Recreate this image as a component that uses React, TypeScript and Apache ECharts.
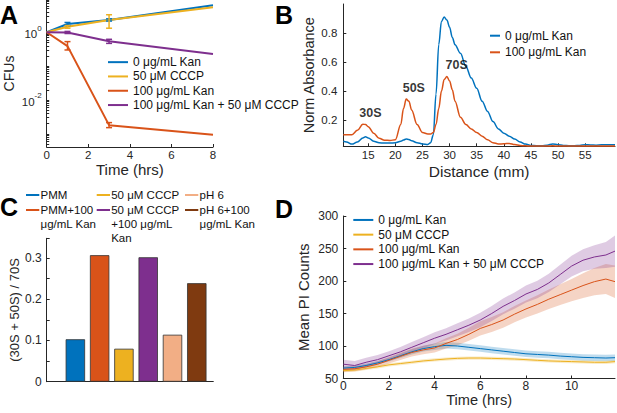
import React, { useEffect, useRef } from 'react';
import * as echarts from 'echarts';

const FONT = '"Liberation Sans", Arial, Helvetica, sans-serif';
const INK = '#262626';
const BLUE = '#0072BD';
const ORANGE = '#D95319';
const YELLOW = '#EDB120';
const PURPLE = '#7E2F8E';

// ---------- shared series names ----------
const seriesNames = ['0 μg/mL Kan', '50 μM CCCP', '100 μg/mL Kan', '100 μg/mL Kan + 50 μM CCCP'];
const seriesColors = [BLUE, YELLOW, ORANGE, PURPLE];

// ---------- Panel A: CFUs vs time ----------
const cfuTimes = [0, 1, 3, 8];
const cfuKan0 = [1, 1.76, 2.3, 6.3];
const cfuCccp = [1, 1.46, 2.3, 5.5];
const cfuKan100 = [1, 0.39, 0.0018, 0.00093];
const cfuKanCccp = [1, 0.98, 0.54, 0.23];
const errTimes = [1, 3];
const errKan0Low = [1.58, 2.15];
const errKan0High = [1.95, 2.5];
const errCccpLow = [1.32, 1.32];
const errCccpHigh = [1.58, 3.3];
const errKan100Low = [0.3, 0.00152];
const errKan100High = [0.53, 0.00214];
const errKanCccpLow = [0.92, 0.47];
const errKanCccpHigh = [1.06, 0.62];
const cfuLabelDecades = [0.01, 1];

// ---------- Panel B: absorbance profile ----------
const distanceMm = [10.4, 11, 12, 13, 14, 14.5, 15, 16, 17, 18, 19, 20, 21, 21.5, 22, 22.5, 23, 24, 25, 26, 26.5, 27, 27.5, 28, 28.5, 29, 29.5, 30, 30.5, 31, 32, 33, 34, 35, 36, 37, 38, 39, 40, 41, 42, 43, 44, 45, 46, 47, 48, 49, 50, 51, 52, 53, 54, 55, 56, 57, 58, 59, 60.5];
const absKan0 = [0.055, 0.05, 0.035, 0.05, 0.078, 0.085, 0.078, 0.055, 0.045, 0.042, 0.042, 0.045, 0.055, 0.064, 0.07, 0.067, 0.058, 0.045, 0.036, 0.033, 0.045, 0.1, 0.38, 0.72, 0.88, 0.91, 0.89, 0.84, 0.77, 0.72, 0.66, 0.57, 0.49, 0.42, 0.33, 0.26, 0.19, 0.14, 0.11, 0.09, 0.07, 0.05, 0.035, 0.026, 0.024, 0.024, 0.028, 0.036, 0.031, 0.026, 0.024, 0.024, 0.026, 0.031, 0.029, 0.028, 0.03, 0.03, 0.031];
const absKan100 = [0.1, 0.1, 0.1, 0.13, 0.172, 0.17, 0.155, 0.11, 0.075, 0.062, 0.06, 0.065, 0.17, 0.28, 0.345, 0.33, 0.27, 0.17, 0.115, 0.105, 0.105, 0.115, 0.17, 0.28, 0.4, 0.48, 0.5, 0.47, 0.41, 0.33, 0.22, 0.17, 0.14, 0.115, 0.09, 0.065, 0.045, 0.036, 0.037, 0.04, 0.032, 0.026, 0.023, 0.022, 0.022, 0.022, 0.022, 0.023, 0.022, 0.022, 0.022, 0.022, 0.022, 0.022, 0.022, 0.022, 0.022, 0.022, 0.022];
const peakLabels = ['30S', '50S', '70S'];
const peakLabelX = [15.4, 23.4, 31.3];
const peakLabelY = [0.25, 0.42, 0.58];
const distanceTicks = [15, 20, 25, 30, 35, 40, 45, 50, 55];
const absorbanceTicks = [0.2, 0.4, 0.6, 0.8];

// ---------- Panel C: subunit ratio bars ----------
const conditions = ['PMM', 'PMM+100 μg/mL Kan', '50 μM CCCP', '50 μM CCCP +100 μg/mL Kan', 'pH 6', 'pH 6+100 μg/mL Kan'];
const conditionLegend = ['PMM', 'PMM+100\nμg/mL Kan', '50 μM CCCP', '50 μM CCCP\n+100 μg/mL\nKan', 'pH 6', 'pH 6+100\nμg/mL Kan'];
const subunitRatio = [0.103, 0.307, 0.08, 0.302, 0.114, 0.239];
const barColors = ['#0072BD', '#D95319', '#EDB120', '#7E2F8E', '#F2AE85', '#7F3A10'];
const barPositions = [1, 2, 3, 4, 5, 6];

// ---------- Panel D: PI counts ----------
const piTimes = [0, 0.5, 1, 1.5, 2, 2.5, 3, 3.5, 4, 4.5, 5, 5.5, 6, 6.5, 7, 7.5, 8, 8.5, 9, 9.5, 10, 10.5, 11, 11.5, 11.9];
const piKan0 = [66, 67, 70, 74, 79, 85, 91, 96, 99, 101, 100, 98, 96, 94, 92, 90, 88, 87, 86, 84.5, 83.5, 82.5, 82, 81.5, 82];
const piKan0Sem = [3, 3, 3, 3, 3, 3.5, 4, 4.5, 5, 5, 5, 5, 5, 5, 5, 5, 5, 5, 5, 5, 5, 5, 5, 5, 5];
const piCccp = [62, 63, 65.5, 68, 71, 73, 75, 77, 78.5, 80, 81, 81.5, 81.5, 81, 80.5, 80, 79, 78, 77, 76.5, 76, 75.5, 75, 75, 76];
const piCccpSem = [2.5, 2.5, 2.5, 2.5, 2.5, 2.5, 2.5, 2.5, 2.5, 2.5, 2.5, 2.5, 2.5, 2.5, 2.5, 2.5, 2.5, 2.5, 2.5, 2.5, 2.5, 2.5, 2.5, 2.5, 2.5];
const piKan100 = [64, 65, 68, 72, 78, 84, 90, 94, 97, 104, 110, 118, 127, 133, 140, 149, 157, 164, 172, 179, 186, 193, 199, 203, 199];
const piKan100Sem = [4, 4, 4, 4.5, 5, 5.5, 6, 6.5, 7, 8, 9, 10, 11, 11.5, 12, 12.5, 13, 14, 15, 16, 17, 19, 21, 23, 25];
const piKanCccp = [72, 70, 75, 79, 85, 91, 98, 105, 112, 118, 125, 132, 140, 150, 161, 170, 180, 187, 197, 210, 223, 232, 237, 240, 246];
const piKanCccpSem = [7, 7, 7, 7, 7, 7.5, 8, 8.5, 9, 9.5, 10, 10.5, 11, 11.5, 12, 12.5, 13, 13.5, 14, 15, 16, 17, 18, 20, 24];

const zip = (xs: number[], ys: number[]) => xs.map((x, i) => [x, ys[i]]);

const axisLine = { show: true, onZero: false, lineStyle: { color: INK, width: 1 } };
const tickIn = { show: true, inside: true, length: 3, lineStyle: { color: INK, width: 1 } };
const lbl = (size: number, extra: any = {}) => ({ color: INK, fontSize: size, fontFamily: FONT, ...extra });
const nameStyle = (size: number) => ({ color: INK, fontSize: size, fontFamily: FONT, verticalAlign: 'middle', align: 'center' });

function errorSeries(name: string, lows: number[], highs: number[], color: string) {
  return {
    type: 'custom', name, xAxisIndex: 0, yAxisIndex: 0, silent: true, z: 3,
    data: errTimes.map((t, i) => [t, lows[i], highs[i]]),
    encode: { x: 0, y: [1, 2] },
    renderItem: (params: any, api: any) => {
      const x = api.value(0);
      const p1 = api.coord([x, api.value(1)]);
      const p2 = api.coord([x, api.value(2)]);
      const w = 3;
      const st = { stroke: color, lineWidth: 1.5 };
      return {
        type: 'group', children: [
          { type: 'line', shape: { x1: p1[0], y1: p1[1], x2: p2[0], y2: p2[1] }, style: st },
          { type: 'line', shape: { x1: p1[0] - w, y1: p1[1], x2: p1[0] + w, y2: p1[1] }, style: st },
          { type: 'line', shape: { x1: p2[0] - w, y1: p2[1], x2: p2[0] + w, y2: p2[1] }, style: st },
        ],
      };
    },
  };
}

function bandSeries(name: string, mean: number[], sem: number[], color: string) {
  return {
    type: 'custom', name, xAxisIndex: 3, yAxisIndex: 3, silent: true, z: 1,
    data: piTimes.map((t, i) => [t, mean[i] - sem[i], mean[i] + sem[i]]),
    encode: { x: 0, y: [1, 2] },
    renderItem: (params: any, api: any) => {
      if (params.dataIndex !== 0) return null;
      const upper = piTimes.map((t, i) => api.coord([t, mean[i] + sem[i]]));
      const lower = piTimes.map((t, i) => api.coord([t, mean[i] - sem[i]])).reverse();
      return { type: 'polygon', shape: { points: upper.concat(lower) }, style: { fill: color, opacity: 0.25 } };
    },
  };
}

function lineSeries(name: string, xi: number, xs: number[], ys: number[], color: string, width: number, extra: any = {}) {
  return {
    type: 'line', name, xAxisIndex: xi, yAxisIndex: xi, data: zip(xs, ys), showSymbol: false, symbol: 'none',
    lineStyle: { color, width }, itemStyle: { color }, z: 2, ...extra,
  };
}

// minor log ticks for panel A
const logTicks: number[] = [];
for (let e = -4; e <= 0; e++) for (let m = 1; m <= 9; m++) logTicks.push(m * Math.pow(10, e));

const option: any = {
  animation: false,
  textStyle: { fontFamily: FONT },
  grid: [
    { left: 46.7, top: 0, width: 166.3, height: 147, outerBoundsMode: 'none', containLabel: false },
    { left: 343.3, top: 4, width: 271.7, height: 142.3, outerBoundsMode: 'none', containLabel: false },
    { left: 46.7, top: 238.3, width: 166.6, height: 143.4, outerBoundsMode: 'none', containLabel: false },
    { left: 343.3, top: 216, width: 271.7, height: 162.5, outerBoundsMode: 'none', containLabel: false },
  ],
  xAxis: [
    {
      type: 'value', gridIndex: 0, min: 0, max: 8, interval: 2, axisLine, axisTick: tickIn,
      axisLabel: lbl(11.5, { margin: 2 }), splitLine: { show: false },
      name: 'Time (hrs)', nameLocation: 'middle', nameGap: 21, nameTextStyle: nameStyle(15),
    },
    {
      type: 'value', gridIndex: 1, min: 10.4, max: 60.5, axisLine,
      axisTick: { ...tickIn, customValues: distanceTicks },
      axisLabel: lbl(11.5, { margin: 3, customValues: distanceTicks }), splitLine: { show: false },
      name: 'Distance (mm)', nameLocation: 'middle', nameGap: 25, nameTextStyle: nameStyle(15.5),
    },
    {
      type: 'value', gridIndex: 2, min: -0.18, max: 6.68, axisLine,
      axisTick: { ...tickIn, customValues: barPositions },
      axisLabel: { show: false }, splitLine: { show: false },
    },
    {
      type: 'value', gridIndex: 3, min: 0, max: 11.9, interval: 2, axisLine, axisTick: tickIn,
      axisLabel: lbl(12, { margin: 1, showMaxLabel: false }), splitLine: { show: false },
      name: 'Time (hrs)', nameLocation: 'middle', nameGap: 16.5, nameTextStyle: nameStyle(14.6),
    },
  ],
  yAxis: [
    {
      type: 'log', logBase: 10, gridIndex: 0, min: 4.07e-4, max: 9.0, axisLine,
      axisTick: { ...tickIn, length: 2.5, customValues: logTicks },
      axisLabel: {
        ...lbl(11.5, { margin: 5 }), customValues: cfuLabelDecades,
        formatter: (v: number) => `{b|10}{s|${Math.round(Math.log10(v))}}`,
        rich: {
          b: { fontSize: 11.5, color: INK, fontFamily: FONT, lineHeight: 16, verticalAlign: 'bottom' },
          s: { fontSize: 8, color: INK, fontFamily: FONT, lineHeight: 8, verticalAlign: 'top' },
        },
      },
      splitLine: { show: false }, minorSplitLine: { show: false },
      name: 'CFUs', nameLocation: 'middle', nameGap: 38, nameTextStyle: nameStyle(14),
    },
    {
      type: 'value', gridIndex: 1, min: 0.02, max: 1.0, axisLine,
      axisTick: { ...tickIn, customValues: absorbanceTicks },
      axisLabel: lbl(11.5, { margin: 6, customValues: absorbanceTicks }), splitLine: { show: false },
      name: 'Norm Absorbance', nameLocation: 'middle', nameGap: 34, nameTextStyle: nameStyle(14.5),
    },
    {
      type: 'value', gridIndex: 2, min: 0, max: 0.348, interval: 0.1, axisLine, axisTick: tickIn,
      minorTick: { show: true, splitNumber: 2, length: 3, lineStyle: { color: INK } },
      axisLabel: lbl(12, { margin: 5, showMaxLabel: false }), splitLine: { show: false },
      name: '(30S + 50S) / 70S', nameLocation: 'middle', nameGap: 32, nameTextStyle: nameStyle(13),
    },
    {
      type: 'value', gridIndex: 3, min: 50, max: 300, interval: 50, axisLine, axisTick: tickIn,
      axisLabel: lbl(12, { margin: 5 }), splitLine: { show: false },
      name: 'Mean PI Counts', nameLocation: 'middle', nameGap: 40, nameTextStyle: nameStyle(15),
    },
  ],
  legend: [
    {
      data: seriesNames, orient: 'vertical', left: 108, top: 55, padding: 0, itemGap: 0,
      itemWidth: 20, itemHeight: 2, icon: 'rect', selectedMode: false,
      textStyle: { color: '#111', fontSize: 12, fontFamily: FONT, lineHeight: 14.3 },
    },
    {
      data: [seriesNames[0], seriesNames[2]], orient: 'vertical', left: 490, top: 27.4, padding: 0, itemGap: 0,
      itemWidth: 10, itemHeight: 2, icon: 'rect', selectedMode: false,
      textStyle: { color: '#111', fontSize: 12, fontFamily: FONT, lineHeight: 16.6 },
    },
    {
      data: seriesNames, orient: 'vertical', left: 353.3, top: 212.6, padding: 0, itemGap: 0,
      itemWidth: 20, itemHeight: 2, icon: 'rect', selectedMode: false,
      textStyle: { color: '#111', fontSize: 12, fontFamily: FONT, lineHeight: 14.7 },
    },
  ],
  series: [
    // Panel A
    lineSeries(seriesNames[0], 0, cfuTimes, cfuKan0, BLUE, 2),
    lineSeries(seriesNames[1], 0, cfuTimes, cfuCccp, YELLOW, 2),
    lineSeries(seriesNames[2], 0, cfuTimes, cfuKan100, ORANGE, 2),
    lineSeries(seriesNames[3], 0, cfuTimes, cfuKanCccp, PURPLE, 2),
    errorSeries('err kan0', errKan0Low, errKan0High, BLUE),
    errorSeries('err cccp', errCccpLow, errCccpHigh, YELLOW),
    errorSeries('err kan100', errKan100Low, errKan100High, ORANGE),
    errorSeries('err kancccp', errKanCccpLow, errKanCccpHigh, PURPLE),
    // Panel B
    lineSeries(seriesNames[0], 1, distanceMm, absKan0, BLUE, 1.5, { smooth: 0.35, smoothMonotone: 'x' }),
    lineSeries(seriesNames[2], 1, distanceMm, absKan100, ORANGE, 1.5, { smooth: 0.35, smoothMonotone: 'x' }),
    {
      type: 'scatter', name: 'peaks', xAxisIndex: 1, yAxisIndex: 1, symbolSize: 1, silent: true,
      itemStyle: { color: 'transparent' },
      data: peakLabels.map((n, i) => ({ name: n, value: [peakLabelX[i], peakLabelY[i]] })),
      label: {
        show: true, position: 'inside', formatter: (p: any) => p.name,
        color: '#000', fontWeight: 'bold', fontSize: 12.5, fontFamily: FONT,
      },
    },
    // Panel C
    {
      type: 'bar', name: 'ratio', xAxisIndex: 2, yAxisIndex: 2, barWidth: 19.4,
      data: subunitRatio.map((v, i) => ({
        name: conditions[i], value: [barPositions[i], v],
        itemStyle: { color: barColors[i], borderColor: '#333', borderWidth: 0.8 },
      })),
    },
    // Panel D
    bandSeries('band kan0', piKan0, piKan0Sem, BLUE),
    bandSeries('band cccp', piCccp, piCccpSem, YELLOW),
    bandSeries('band kan100', piKan100, piKan100Sem, ORANGE),
    bandSeries('band kancccp', piKanCccp, piKanCccpSem, PURPLE),
    lineSeries(seriesNames[0], 3, piTimes, piKan0, BLUE, 1),
    lineSeries(seriesNames[1], 3, piTimes, piCccp, YELLOW, 1),
    lineSeries(seriesNames[2], 3, piTimes, piKan100, ORANGE, 1),
    lineSeries(seriesNames[3], 3, piTimes, piKanCccp, PURPLE, 1),
  ],
  graphic: [
    ...['A', 'B', 'C', 'D'].map((t, i) => ({
      type: 'text', x: [0, 275, 0, 275][i], y: [15, 15, 207, 209][i],
      style: { text: t, font: `bold 25px ${FONT}`, fill: '#000', verticalAlign: 'middle', align: 'left' },
    })),
    ...conditionLegend.flatMap((txt, i) => {
      const col = Math.floor(i / 2);
      const row = i % 2;
      const lx = [26, 96.7, 185][col];
      const ly = [195, 210][row];
      return [
        { type: 'line', shape: { x1: lx, y1: ly, x2: lx + 13.3, y2: ly }, style: { stroke: barColors[i], lineWidth: 2 } },
        {
          type: 'text', x: lx + 14.5, y: ly - 7.1,
          style: { text: txt, font: `11.5px ${FONT}`, fill: '#111', verticalAlign: 'top', align: 'left', lineHeight: 14.2 },
        },
      ];
    }),
  ],
};

export default function App() {
  const ref = useRef<HTMLDivElement>(null);
  useEffect(() => {
    document.body.style.margin = '0';
    const chart = echarts.init(ref.current as HTMLDivElement, null, { renderer: 'svg' });
    chart.setOption(option);
    return () => chart.dispose();
  }, []);
  return <div ref={ref} style={{ width: 617, height: 413 }} />;
}
